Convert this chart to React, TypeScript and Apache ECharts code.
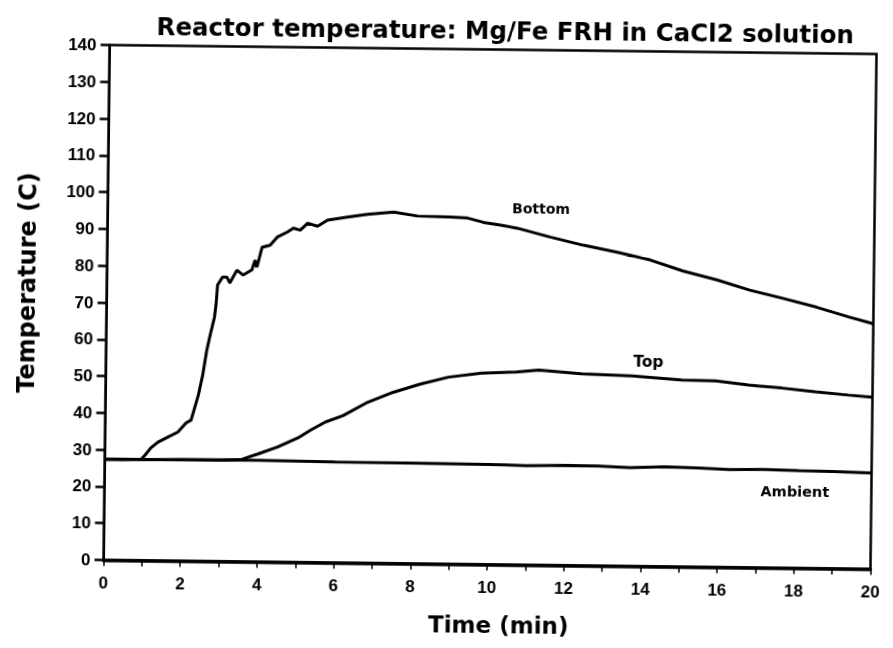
import React, { useEffect, useRef } from "react";
import * as echarts from "echarts";

// ---- Data (time in min, temperature in °C) ----
const titleText = "Reactor temperature: Mg/Fe FRH in CaCl2 solution";
const xName = "Time (min)";
const yName = "Temperature (C)";
const xTicks = { min: 0, max: 20, step: 2 };
const yTicks = { min: 0, max: 140, step: 10 };

const bottomSeries: [number, number][] = [
  [0, 27.4], [0.5, 27.4], [0.95, 27.5], [1.05, 28.6], [1.2, 30.6], [1.38, 32.2],
  [1.64, 33.6], [1.9, 35.0], [2.11, 37.5], [2.24, 38.3], [2.42, 45.0], [2.53, 50.6],
  [2.63, 57.4], [2.7, 60.9], [2.82, 66.4], [2.86, 70.2], [2.89, 75.1], [3.02, 77.3],
  [3.13, 77.3], [3.21, 75.7], [3.39, 79.2], [3.55, 77.9], [3.78, 79.3], [3.86, 82.0],
  [3.91, 80.1], [4.04, 85.5], [4.25, 86.1], [4.43, 88.3], [4.69, 89.7], [4.85, 90.8],
  [5.03, 90.3], [5.22, 92.2], [5.48, 91.4], [5.74, 93.1], [6.26, 94.0], [6.78, 94.8],
  [7.46, 95.5], [8.08, 94.5], [8.94, 94.3], [9.39, 94.1], [9.8, 93.0], [10.25, 92.3],
  [10.69, 91.5], [11.55, 89.2], [12.41, 87.1], [13.3, 85.3], [14.16, 83.3], [15.02, 80.4],
  [15.91, 78.1], [16.77, 75.4], [17.63, 73.3], [18.51, 71.0], [19.37, 68.4], [19.95, 66.8],
  [20, 66.6],
];

const topSeries: [number, number][] = [
  [0, 27.4], [1, 27.4], [2, 27.5], [3, 27.5], [3.55, 27.7], [3.99, 29.3], [4.51, 31.3],
  [5.03, 33.8], [5.37, 36.0], [5.74, 38.2], [6.2, 40.0], [6.8, 43.5], [7.5, 46.5],
  [8.2, 48.8], [8.94, 50.8], [9.8, 52.0], [10.69, 52.4], [11.29, 53.0], [12.41, 52.1],
  [13.72, 51.7], [15.02, 50.8], [15.91, 50.6], [16.77, 49.6], [17.63, 48.9], [18.51, 48.0],
  [19.37, 47.2], [20, 46.7],
];

const ambientSeries: [number, number][] = [
  [0, 27.4], [2, 27.5], [4, 27.6], [6, 27.4], [8, 27.3], [10, 27.2], [11, 27.0],
  [12, 27.2], [12.86, 27.1], [13.7, 26.8], [14.6, 27.1], [15.46, 26.9], [16.3, 26.6],
  [17.2, 26.7], [18.1, 26.5], [19, 26.4], [20, 26.1],
];

const curveNames = ["Bottom", "Top", "Ambient"];

export default function App() {
  const ref = useRef<HTMLDivElement>(null);

  useEffect(() => {
    if (!ref.current) return;
    const chart = echarts.init(ref.current, undefined, { renderer: "svg" });
    const black = "#000";
    const heavy = { fontFamily: "DejaVu Sans", fontWeight: "bold" as const, fill: black };
    const tickFont = {
      color: black,
      fontFamily: "Liberation Sans",
      fontWeight: "bold" as const,
      fontSize: 17,
    };
    const lineSeries = (name: string, data: [number, number][]) => ({
      name,
      type: "line",
      data,
      showSymbol: false,
      symbol: "none",
      smooth: false,
      lineStyle: { color: black, width: 3 },
      z: 3,
    });

    chart.setOption({
      animation: false,
      backgroundColor: "#fff",
      title: {
        text: titleText,
        left: 497,
        top: 13,
        textAlign: "center",
        textStyle: {
          fontFamily: "DejaVu Sans",
          fontWeight: "bold",
          fontSize: 24.5,
          color: black,
        },
      },
      grid: {
        left: 106.5,
        top: 49.5,
        width: 767,
        height: 515,
        show: true,
        borderColor: black,
        borderWidth: 2.5,
        backgroundColor: "transparent",
      },
      xAxis: {
        type: "value",
        min: xTicks.min,
        max: xTicks.max,
        interval: xTicks.step,
        axisLine: { show: true, onZero: false, lineStyle: { color: black, width: 3.5 } },
        axisTick: { show: true, length: 6, lineStyle: { color: black, width: 1.5 } },
        minorTick: { show: true, splitNumber: 2, length: 6, lineStyle: { color: black, width: 1.5 } },
        splitLine: { show: false },
        axisLabel: { ...tickFont, margin: 14 },
      },
      yAxis: {
        type: "value",
        min: yTicks.min,
        max: yTicks.max,
        interval: yTicks.step,
        axisLine: { show: true, lineStyle: { color: black, width: 2 } },
        axisTick: { show: true, length: 9, lineStyle: { color: black, width: 2.5 } },
        splitLine: { show: false },
        axisLabel: { ...tickFont, margin: 13 },
      },
      graphic: [
        {
          type: "text",
          x: 27,
          y: 288,
          rotation: Math.PI / 2,
          style: { ...heavy, text: yName, fontSize: 24, textAlign: "center", textVerticalAlign: "middle" },
        },
        {
          type: "text",
          x: 502,
          y: 625,
          style: { ...heavy, text: xName, fontSize: 23, textAlign: "center", textVerticalAlign: "middle" },
        },
        {
          type: "text",
          x: 540,
          y: 208,
          style: { ...heavy, text: curveNames[0], fontSize: 14, textAlign: "center", textVerticalAlign: "middle" },
        },
        {
          type: "text",
          x: 649,
          y: 360,
          style: { ...heavy, text: curveNames[1], fontSize: 15.5, textAlign: "center", textVerticalAlign: "middle" },
        },
        {
          type: "text",
          x: 797,
          y: 488,
          style: { ...heavy, text: curveNames[2], fontSize: 14.5, textAlign: "center", textVerticalAlign: "middle" },
        },
      ],
      series: [
        lineSeries(curveNames[0], bottomSeries),
        lineSeries(curveNames[1], topSeries),
        lineSeries(curveNames[2], ambientSeries),
      ],
    });

    return () => chart.dispose();
  }, []);

  return (
    <div
      ref={ref}
      style={{
        position: "fixed",
        left: 0,
        top: 0,
        width: 893,
        height: 648,
        transformOrigin: "490px 307px",
        transform: "rotate(0.672deg)",
      }}
    />
  );
}
